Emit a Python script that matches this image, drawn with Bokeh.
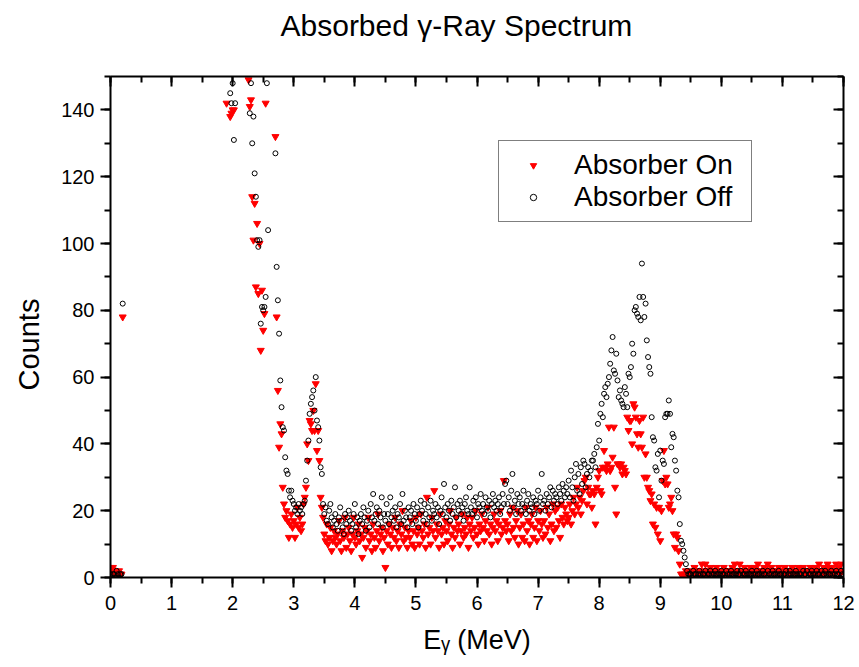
import numpy as np
from bokeh.plotting import figure
from bokeh.models import (LinearAxis, SingleIntervalTicker, Legend, LegendItem, Title,
                          ColumnDataSource, CustomJSTickFormatter)
from bokeh.embed import file_html
from bokeh.resources import INLINE

nan = float("nan")
STEP = 0.02  # MeV per channel

# ---- data: counts per channel, segments with start energy (MeV) ----
low_start = 0.00
low_on = [3, 2, 3, 1, 2, 1, 1, 2, 1, 1, 78]
low_off = [1, 0, 1, 1, 0, 2, 1, 0, 1, 1, 82]

a_start = 1.90
a_on = [142, nan, nan, 138, 139, 140, 140, nan, nan, nan,
        nan, nan, nan, nan, nan, nan, nan, nan, 149, 141,
        143, 114, 101, 112, 87, 106, 85, 100, 68, 86,
        74, 79, 142, nan, nan, nan, nan, nan, nan, nan,
        132, 78, 56, 39, 46, 43, 27, 22, 18, 20,
        17, 12, 16, 19, 15, 17, 12, 16, 21, 15,
        18, 14, 16, 22, 24, 27, 40, 35, 47, 46,
        44, 50, 44, 58, 38, 44, 35, 24, 21, 18]
a_off = [nan, nan, nan, 145, 142, 148, 131, 142, nan, nan,
         nan, nan, nan, nan, nan, nan, nan, nan, nan, 139,
         148, 130, 138, 121, 114, 101, 99, 101, 76, 81,
         80, 81, 84, 148, 104, nan, nan, nan, nan, nan,
         127, 93, 83, 73, 59, 51, 45, 44, 36, 32,
         31, 26, 24, 26, 23, 22, 20, 21, 19, 22,
         20, 21, 19, 22, 23, 29, 35, 41, 49, 52,
         54, 56, 50, 60, 47, 45, 41, 33, 31, 22]

b_start = 3.50
b_off = [19, 21, 17, 16, 20, 22, 18, 15, 17, 19,
         16, 14, 18, 21, 17, 15, 13, 19, 16, 18,
         20, 17, 14, 16, 19, 22, 15, 18, 13, 17,
         19, 16, 21, 18, 14, 17, 20, 15, 22, 18,
         25, 17, 19, 21, 16, 20, 18, 24, 15, 19,
         17, 22, 19, 16, 24, 18, 20, 17, 21, 15,
         19, 18, 22, 16, 25, 17, 20, 18, 15, 21,
         18, 20, 16, 22, 19, 17, 21, 15, 19, 23,
         20, 17, 22, 19, 16, 21, 18, 23, 17, 20,
         19, 22, 18, 21, 16, 20, 24, 19, 28, 21,
         18, 22, 20, 17, 23, 19, 21, 27, 18, 22,
         20, 23, 19, 21, 17, 22, 24, 20, 19, 27,
         21, 19, 23, 20, 24, 18, 22, 21, 25, 20,
         22, 19, 24, 21, 20, 23, 18, 22, 25, 21,
         23, 20, 22, 24, 19, 21, 25, 22, 28, 29,
         22, 24, 20, 26, 31, 21, 23, 19, 25, 22,
         24, 20, 22, 26, 21, 19, 23, 25, 20, 22,
         21, 24, 19, 23, 22, 26, 20, 24, 31, 22,
         23, 20, 25, 22, 24, 27, 21, 26, 23, 25,
         24, 22, 27, 25, 23, 28, 26, 24, 27, 25]
b_on = [13, 11, 16, 10, 12, 15, 8, 11, 14, 12,
        10, 13, 17, 11, 8, 14, 12, 18, 9, 13,
        15, 11, 8, 13, 18, 12, 10, 14, 16, 11,
        13, 6, 12, 15, 9, 14, 18, 11, 13, 8,
        16, 12, 9, 14, 19, 11, 13, 15, 8, 12,
        3, 14, 10, 16, 13, 9, 15, 12, 18, 11,
        14, 9, 16, 13, 20, 11, 15, 12, 9, 14,
        12, 17, 10, 14, 9, 18, 13, 15, 10, 19,
        14, 12, 16, 9, 24, 13, 15, 10, 18, 14,
        26, 12, 16, 14, 9, 19, 13, 15, 10, 17,
        14, 11, 16, 20, 13, 9, 15, 12, 18, 14,
        16, 10, 14, 19, 12, 15, 13, 18, 9, 16,
        14, 18, 12, 15, 20, 13, 10, 16, 14, 19,
        15, 11, 17, 14, 21, 13, 16, 10, 15, 19,
        14, 17, 11, 16, 20, 13, 15, 29, 17, 14,
        16, 11, 19, 14, 21, 15, 12, 17, 20, 10,
        15, 19, 12, 16, 11, 21, 14, 17, 10, 16,
        19, 12, 15, 21, 11, 17, 14, 20, 16, 12,
        17, 13, 21, 15, 19, 11, 16, 22, 14, 20,
        15, 21, 17, 12, 22, 18, 16, 21, 19, 17]

c_start = 7.50
c_off = [29, 24, 32, 27, 23, 30, 34, 26, 31, 25,
         33, 28, 35, 34, 27, 31, 33, 30, 32, 35,
         35, 37, 33, 39, 46, 41, 49, 52, 48, 55,
         57, 54, 58, 60, 64, 68, 72, 62, 61, 67,
         59, 54, 56, 53, 52, 51, 57, 55, 51, 61,
         60, 63, 70, 67, 80, 81, 79, 78, 84, 77,
         94, 84, 78, 82, 71, 66, 63, 61, 48, 42,
         41, 33, 32, 37, 24, 38, 29, 35, 34, 48,
         49, 49, 53, 49, 39, 43, 42, 35, 32, 26,
         24, 16, 11, 10, 8, 6, 4, 2, 1, 1]
c_on = [18, 22, 16, 20, 24, 19, 22, 27, 21, 24,
        19, 23, 26, 29, 30, 22, 27, 25, 25, 21,
        26, 25, 16, 27, 30, 32, 26, 25, 33, 38,
        33, 32, 34, 45, 32, 33, 36, 45, 27, 19,
        34, 34, 33, 34, 31, 33, 32, 31, 48, 44,
        47, 47, 40, 52, 51, 48, 43, 39, 47, 43,
        39, 48, 30, 37, 30, 27, 26, 23, 25, 16,
        22, 15, 21, 13, 21, 11, 20, 29, 38, 28,
        30, 28, 21, 22, 24, 20, 13, 9, 13, 12,
        8, 4, 1, 1, 0, 1, 2, 1, 0, 1]

d_start = 9.50
d_off = [1, 0, 2, 1, 1, 0, 1, 2, 1, 0,
         1, 1, 2, 0, 1, 1, 2, 1, 0, 1,
         2, 1, 1, 0, 1, 2, 1, 1, 0, 2,
         1, 0, 1, 2, 1, 1, 0, 1, 2, 1,
         1, 2, 0, 1, 1, 2, 1, 0, 1, 1,
         2, 1, 0, 1, 2, 1, 1, 0, 1, 2,
         1, 1, 0, 2, 1, 0, 1, 2, 1, 1,
         0, 1, 2, 1, 1, 0, 1, 1, 2, 0,
         1, 2, 1, 0, 1, 1, 2, 1, 0, 1,
         1, 0, 2, 1, 1, 2, 0, 1, 1, 2,
         1, 0, 1, 2, 1, 1, 0, 2, 1, 1,
         2, 1, 0, 1, 1, 2, 1, 0, 1, 2,
         1, 1, 0, 2, 1]
d_on = [2, 1, 1, 3, 2, 0, 1, 2, 1, 4,
        1, 2, 4, 1, 2, 1, 3, 2, 1, 2,
        1, 3, 2, 1, 2, 1, 2, 3, 1, 2,
        2, 1, 2, 1, 3, 2, 4, 1, 2, 1,
        4, 2, 1, 2, 3, 1, 2, 1, 2, 3,
        1, 2, 3, 1, 2, 4, 1, 2, 1, 2,
        3, 1, 2, 4, 2, 1, 3, 2, 1, 2,
        2, 1, 3, 2, 1, 2, 1, 3, 2, 1,
        2, 1, 2, 3, 1, 2, 1, 2, 3, 1,
        2, 1, 3, 2, 1, 2, 2, 1, 3, 2,
        1, 2, 3, 1, 2, 4, 2, 1, 2, 3,
        1, 2, 4, 3, 1, 2, 3, 1, 2, 4,
        2, 3, 1, 4, 2]

on_segments = [(low_start, low_on), (a_start, a_on), (b_start, b_on), (c_start, c_on), (d_start, d_on)]
off_segments = [(low_start, low_off), (a_start, a_off), (b_start, b_off), (c_start, c_off), (d_start, d_off)]

title_text = "Absorbed \u03b3-Ray Spectrum"
ylabel_text = "Counts"
xlabel_text = "E\u1d67 (MeV)"
legend_on = "Absorber On"
legend_off = "Absorber Off"


def build(segs):
    xs, ys = [], []
    for start, vals in segs:
        v = np.array(vals, dtype=float)
        xs.append(start + STEP * np.arange(len(v)))
        ys.append(v)
    return ColumnDataSource(dict(x=np.concatenate(xs), y=np.concatenate(ys)))


src_on = build(on_segments)
src_off = build(off_segments)

FONT = "Liberation Sans"

p = figure(width=859, height=667, x_range=(0, 12), y_range=(0, 150),
           output_backend="svg", toolbar_location=None,
           min_border_left=110, min_border_right=16, min_border_top=76, min_border_bottom=90)
p.outline_line_color = None
p.xgrid.grid_line_color = None
p.ygrid.grid_line_color = None
p.background_fill_color = "white"
p.border_fill_color = "white"

# the trailing empty line reserves room so the title sits near the top edge
p.title.text = title_text + "\n"
p.title.text_font = FONT
p.title.text_font_size = "30px"
p.title.text_font_style = "normal"
p.title.text_color = "black"
p.title.text_line_height = 1.0
p.title.align = "left"
p.title.offset = 170
p.title.vertical_align = "top"
p.title.standoff = 0

r_on = p.scatter("x", "y", source=src_on, marker="inverted_triangle", size=7,
                 fill_color="#ff0000", line_color="#ff0000")
r_off = p.scatter("x", "y", source=src_off, marker="circle", size=5,
                  fill_color=None, line_color="black", line_width=1)


def style_axis(ax, inward):
    ax.axis_line_width = 2
    ax.major_tick_line_width = 2
    ax.minor_tick_line_width = 2
    ax.axis_line_color = "black"
    ax.major_tick_line_color = "black"
    ax.minor_tick_line_color = "black"
    if inward:
        ax.major_tick_in = 10
        ax.major_tick_out = 0
        ax.minor_tick_in = 6
        ax.minor_tick_out = 0
    else:
        ax.major_tick_in = 0
        ax.major_tick_out = 10
        ax.minor_tick_in = 0
        ax.minor_tick_out = 6
    ax.major_label_text_font = FONT
    ax.major_label_text_font_size = "20px"
    ax.major_label_text_color = "black"


p.xaxis.ticker = SingleIntervalTicker(interval=1, num_minor_ticks=2)
p.yaxis.ticker = SingleIntervalTicker(interval=20, num_minor_ticks=2)
style_axis(p.xaxis[0], False)
style_axis(p.yaxis[0], False)
p.xaxis.major_label_standoff = 8
p.yaxis.major_label_standoff = 6

p.xaxis.axis_label = xlabel_text
p.xaxis.axis_label_text_font = FONT
p.xaxis.axis_label_text_font_size = "27px"
p.xaxis.axis_label_text_font_style = "normal"
p.xaxis.axis_label_text_color = "black"
p.xaxis.axis_label_standoff = 12

blank = CustomJSTickFormatter(code="return ''")
top = LinearAxis(ticker=SingleIntervalTicker(interval=1, num_minor_ticks=2), formatter=blank)
right = LinearAxis(ticker=SingleIntervalTicker(interval=20, num_minor_ticks=2), formatter=blank)
style_axis(top, True)
style_axis(right, True)
top.major_label_standoff = 0
right.major_label_standoff = 0
p.add_layout(top, "above")
p.add_layout(right, "right")

ytitle = Title(text=ylabel_text, align="left", offset=187, standoff=24, vertical_align="top",
               text_font=FONT, text_font_size="29px", text_font_style="normal",
               text_color="black")
p.add_layout(ytitle, "left")

legend = Legend(items=[LegendItem(label=legend_on, renderers=[r_on]),
                       LegendItem(label=legend_off, renderers=[r_off])],
                location=(388, 355), orientation="vertical",
                label_text_font=FONT, label_text_font_size="28px", label_text_color="black",
                glyph_width=52, glyph_height=16, label_standoff=15, label_width=169,
                padding=8, spacing=0, margin=0,
                border_line_color="black", border_line_width=1.5,
                background_fill_color="white", background_fill_alpha=1.0)
p.add_layout(legend, "center")

open("out.html", "w").write(file_html(p, INLINE))
